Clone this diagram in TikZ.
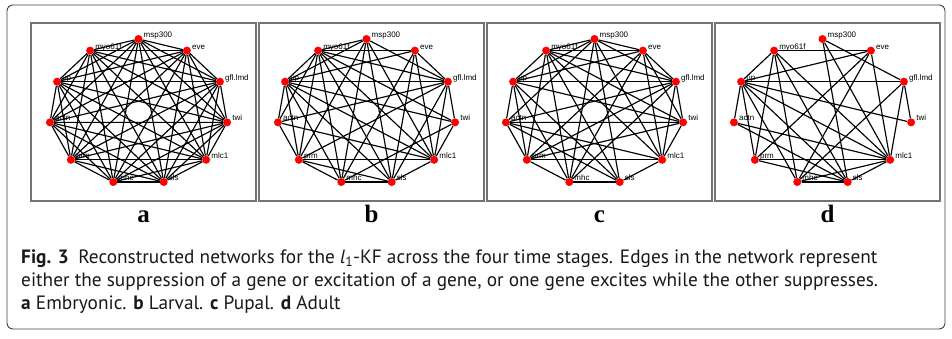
\documentclass[tikz,border=0pt]{standalone}
\usepackage{fontspec}
\setmainfont{Liberation Serif}
\setsansfont{Liberation Sans}
\newfontfamily\capfont{PT Sans}
\pgfdeclarelayer{labels}
\pgfdeclarelayer{edges}
\pgfsetlayers{labels,edges,main}
\tikzset{
  gene/.style={circle, fill=red, inner sep=0pt, minimum size=8pt},
  genename/.style={anchor=base west, inner sep=0pt, font=\sffamily\fontsize{8}{8}\selectfont},
  edge/.style={line width=1.15pt},
  panel/.style={draw=black!55, line width=1.5pt},
  stage/.style={anchor=base, inner sep=0pt, font=\bfseries\fontsize{25}{25}\selectfont},
  caption/.style={anchor=base west, inner sep=0pt, text=black!90, font=\capfont\fontsize{19.3}{19.3}\selectfont},
}
\begin{document}
\begin{tikzpicture}[x=1pt, y=-1pt]
  \useasboundingbox (0,0) rectangle (952,339);
  % outer frame
  \draw[black!75, line width=0.9pt, rounded corners=6pt] (7,5) rectangle (945,329);
  % panels with the genes on a ring
  \foreach \p [count=\i from 0] in {a,b,c,d} {
    \draw[panel] (31+228*\i,23) rectangle (256+228*\i,201);
    \node[stage] (stage-\p) at (143.5+228*\i,222) {\p};
    \foreach \g [count=\k from 0] in {msp300,eve,gfl.lmd,twi,mlc1,sls,mhc,prm,actn,up,myo61f} {
      \node[gene] (\p\k) at ({138.5+228*\i+89.5*cos(90-\k*360/11)}, {112-73*sin(90-\k*360/11)}) {};
      \begin{pgfonlayer}{labels}
        \node[genename] (\p\k-name) at ([xshift=5pt, yshift=1.5pt]\p\k.center) {\g};
      \end{pgfonlayer}
    }
  }
  \begin{pgfonlayer}{edges}
    % embryonic: every pair
    \foreach \u in {0,...,9} {
      \pgfmathtruncatemacro\w{\u+1}
      \foreach \v in {\w,...,10}
        \draw[edge] (a\u) -- (a\v);
    }
    % larval
    \foreach \u/\v in {0/10,0/9,0/7,0/6,0/5,0/4,0/2,
        1/10,1/2,1/9,1/6,1/5,1/4,
        2/3,2/4,2/5,2/9,2/10,2/8,2/7,
        3/4,3/9,3/10,3/6,
        4/5,4/7,4/9,4/10,4/8,
        5/6,5/9,5/10,5/7,
        6/7,6/9,6/10,
        7/8,7/9,7/10,
        8/9,8/10,9/10}
      \draw[edge] (b\u) -- (b\v);
    % pupal
    \foreach \u/\v in {0/10,0/1,0/9,0/8,0/6,0/5,0/4,0/2,
        1/10,1/2,1/9,1/7,1/6,1/4,1/3,
        2/3,2/4,2/9,2/10,2/7,2/6,2/8,
        3/4,3/10,3/9,3/8,3/7,
        4/5,4/7,4/10,4/8,
        5/6,5/10,5/9,5/8,
        6/7,6/9,6/10,
        7/8,7/9,7/10,
        8/9,9/10}
      \draw[edge] (c\u) -- (c\v);
    % adult
    \foreach \u/\v in {0/2,0/4,0/5,
        1/10,1/9,1/7,1/6,1/4,
        2/9,2/3,2/4,2/6,
        3/9,
        4/5,4/7,4/10,4/9,4/8,4/6,
        5/6,5/10,5/9,5/8,5/7,
        6/10,6/9,
        7/9,7/10,
        8/9,9/10}
      \draw[edge] (d\u) -- (d\v);
  \end{pgfonlayer}
  % caption
  \node[caption] (cap-1) at (21,263) {\textbf{Fig. 3}\enspace Reconstructed networks for the {\itshape l}\textsubscript{1}-KF across the four time stages. Edges in the network represent};
  \node[caption] (cap-2) at (21,286) {either the suppression of a gene or excitation of a gene, or one gene excites while the other suppresses.};
  \node[caption] (cap-3) at (21,309) {\textbf{a} Embryonic. \textbf{b} Larval. \textbf{c} Pupal. \textbf{d} Adult};
\end{tikzpicture}
\end{document}
